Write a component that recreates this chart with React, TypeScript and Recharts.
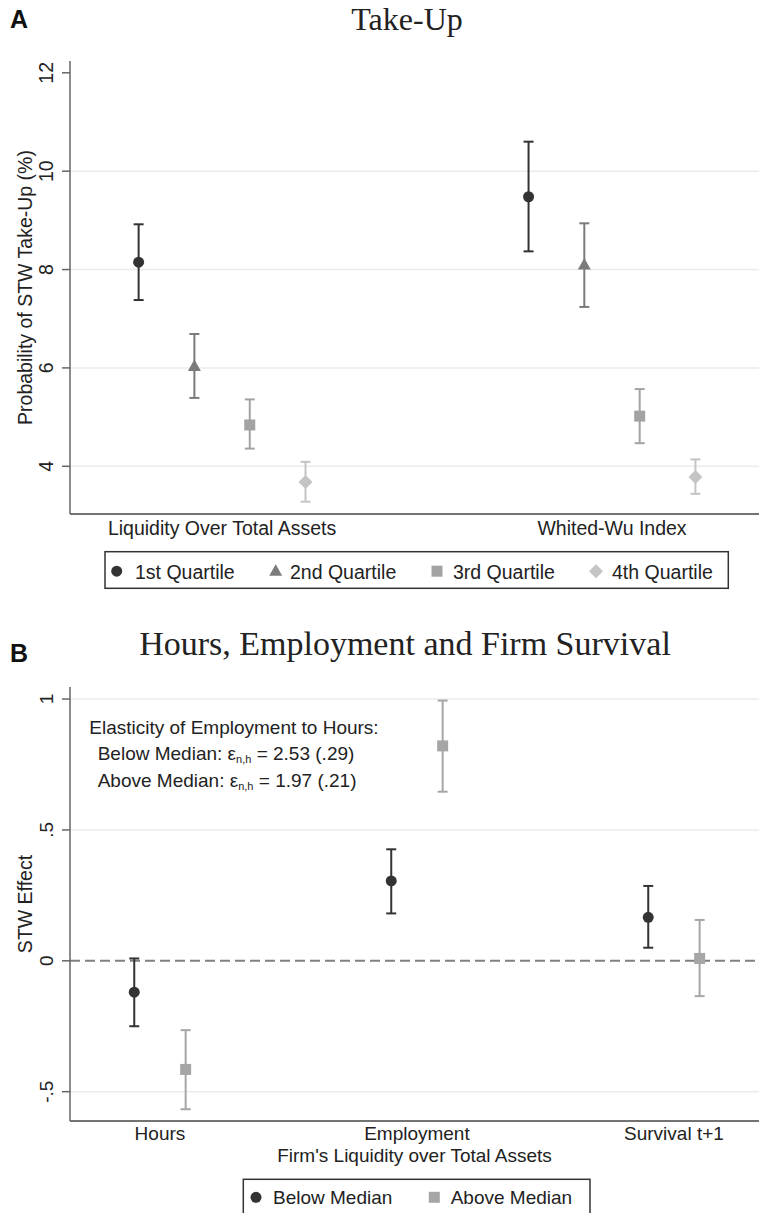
import React from "react";
import { ScatterChart, Scatter, XAxis, YAxis, ReferenceLine, ErrorBar } from "recharts";

// Panel A: take-up by liquidity quartile
const takeUpGroups = ["Liquidity Over Total Assets", "Whited-Wu Index"];
const quartileNames = ["1st Quartile", "2nd Quartile", "3rd Quartile", "4th Quartile"];
const takeUpMean = [
  [8.15, 9.48],
  [6.03, 8.09],
  [4.84, 5.02],
  [3.68, 3.78],
];
const takeUpLow = [
  [7.38, 8.37],
  [5.39, 7.24],
  [4.36, 4.47],
  [3.28, 3.44],
];
const takeUpHigh = [
  [8.92, 10.6],
  [6.69, 8.94],
  [5.36, 5.57],
  [4.09, 4.14],
];
const takeUpTicks = [4, 6, 8, 10, 12];
const takeUpGrid = [4, 6, 8, 10];

// Panel B: effects below / above median liquidity
const outcomeNames = ["Hours", "Employment", "Survival t+1"];
const medianNames = ["Below Median", "Above Median"];
const effectMean = [
  [-0.12, 0.305, 0.166],
  [-0.415, 0.821, 0.009],
];
const effectLow = [
  [-0.25, 0.181, 0.05],
  [-0.567, 0.646, -0.135],
];
const effectHigh = [
  [0.009, 0.426, 0.286],
  [-0.265, 0.994, 0.156],
];
const effectTicks = [-0.5, 0, 0.5, 1];
const effectTickLabels = ["-.5", "0", ".5", "1"];
const effectGrid = [-0.5, 0.5, 1];

const SANS = "'Liberation Sans', Arial, sans-serif";
const SERIF = "'Liberation Serif', 'Times New Roman', serif";
const TXT = "#222";

const quartileColors = ["#333333", "#7b7b7b", "#a3a3a3", "#c4c4c4"];
const quartileShapes = ["circle", "triangle", "square", "diamond"];
const quartileOffset = [-0.214, -0.071, 0.071, 0.214];
const medianColors = ["#333333", "#a6a6a6"];
const medianShapes = ["circle", "square"];
const medianOffset = [-0.1, 0.1];

function Marker({ kind, cx, cy, color }: any) {
  if (kind === "circle") return <circle cx={cx} cy={cy} r={5.5} fill={color} />;
  if (kind === "triangle")
    return <polygon points={`${cx},${cy - 7} ${cx + 6.5},${cy + 4.5} ${cx - 6.5},${cy + 4.5}`} fill={color} />;
  if (kind === "square") return <rect x={cx - 5.5} y={cy - 5.5} width={11} height={11} fill={color} />;
  return <polygon points={`${cx},${cy - 7} ${cx + 7},${cy} ${cx},${cy + 7} ${cx - 7},${cy}`} fill={color} />;
}

const YTick = ({ x, y, payload, fmt, fs }: any) => (
  <text
    transform={`translate(${x - 7},${y}) rotate(-90)`}
    textAnchor="middle"
    fontSize={fs}
    fontFamily={SANS}
    fill={TXT}
  >
    {fmt(payload.value)}
  </text>
);

const XTick = ({ x, y, payload, names, fs, dy }: any) => (
  <text x={x} y={y + dy} textAnchor="middle" fontSize={fs} fontFamily={SANS} fill={TXT}>
    {names[Math.round(payload.value) - 1]}
  </text>
);

function TakeUpChart() {
  const series = quartileNames.map((name, q) =>
    takeUpGroups.map((g, i) => ({
      x: i + 1 + quartileOffset[q],
      y: takeUpMean[q][i],
      err: [takeUpMean[q][i] - takeUpLow[q][i], takeUpHigh[q][i] - takeUpMean[q][i]],
    }))
  );
  return (
    <ScatterChart width={759} height={600} margin={{ top: 61, right: 0, bottom: 0, left: 0 }}>
      <XAxis
        type="number"
        dataKey="x"
        domain={[0.61, 2.377]}
        ticks={[1, 2]}
        allowDataOverflow
        tickLine={false}
        tickSize={0}
        tickMargin={0}
        height={86}
        stroke="#444"
        strokeWidth={1.5}
        tick={<XTick names={takeUpGroups} fs={19.5} dy={21} />}
      />
      <YAxis
        type="number"
        dataKey="y"
        domain={[3.03, 12.24]}
        ticks={takeUpTicks}
        allowDataOverflow
        width={70}
        tickSize={8}
        tickMargin={2}
        stroke="#666"
        strokeWidth={1.5}
        tick={<YTick fmt={(v: number) => String(v)} fs={19.5} />}
      />
      {takeUpGrid.map((v) => (
        <ReferenceLine key={v} y={v} stroke="#ebebeb" strokeWidth={1.5} />
      ))}
      {series.map((rows, q) => (
        <Scatter
          key={q}
          name={quartileNames[q]}
          data={rows}
          isAnimationActive={false}
          shape={(p: any) => <Marker kind={quartileShapes[q]} cx={p.cx} cy={p.cy} color={quartileColors[q]} />}
        >
          <ErrorBar dataKey="err" direction="y" width={5} stroke={quartileColors[q]} strokeWidth={2} />
        </Scatter>
      ))}
    </ScatterChart>
  );
}

function EffectChart() {
  const series = medianNames.map((name, m) =>
    outcomeNames.map((o, i) => ({
      x: i + 1 + medianOffset[m],
      y: effectMean[m][i],
      err: [effectMean[m][i] - effectLow[m][i], effectHigh[m][i] - effectMean[m][i]],
    }))
  );
  return (
    <ScatterChart width={759} height={613} margin={{ top: 87, right: 0, bottom: 0, left: 0 }}>
      <XAxis
        type="number"
        dataKey="x"
        domain={[0.65, 3.331]}
        ticks={[1, 2, 3]}
        allowDataOverflow
        tickLine={false}
        tickSize={0}
        tickMargin={0}
        height={92}
        stroke="#444"
        strokeWidth={1.5}
        tick={<XTick names={outcomeNames} fs={19} dy={19} />}
      />
      <YAxis
        type="number"
        dataKey="y"
        domain={[-0.612, 1.046]}
        ticks={effectTicks}
        allowDataOverflow
        width={70}
        tickSize={8}
        tickMargin={2}
        stroke="#666"
        strokeWidth={1.5}
        tick={<YTick fmt={(v: number) => effectTickLabels[effectTicks.indexOf(v)]} fs={19} />}
      />
      {effectGrid.map((v) => (
        <ReferenceLine key={v} y={v} stroke="#ebebeb" strokeWidth={1.5} />
      ))}
      <ReferenceLine y={0} stroke="#808080" strokeWidth={2} strokeDasharray="10 5" />
      {series.map((rows, m) => (
        <Scatter
          key={m}
          name={medianNames[m]}
          data={rows}
          isAnimationActive={false}
          shape={(p: any) => <Marker kind={medianShapes[m]} cx={p.cx} cy={p.cy} color={medianColors[m]} />}
        >
          <ErrorBar dataKey="err" direction="y" width={5} stroke={medianColors[m]} strokeWidth={2} />
        </Scatter>
      ))}
    </ScatterChart>
  );
}

function Overlay() {
  const legendA = [
    { mx: 116.7, tx: 135 },
    { mx: 275.7, tx: 290 },
    { mx: 437, tx: 453 },
    { mx: 596, tx: 612 },
  ];
  const legendB = [
    { mx: 256, tx: 273 },
    { mx: 434.3, tx: 450.7 },
  ];
  const sub = (main: string, rest: string, x: number, y: number) => (
    <text x={x} y={y} fontSize={19} fontFamily={SANS} fill={TXT}>
      {main}
      <tspan fontSize={11} dy={3}>n,h</tspan>
      <tspan dy={-3}>{rest}</tspan>
    </text>
  );
  return (
    <svg
      width={759}
      height={1213}
      style={{ position: "absolute", left: 0, top: 0, pointerEvents: "none" }}
    >
      <text x={10} y={28} fontSize={25} fontWeight="bold" fontFamily={SANS} fill="#111">A</text>
      <text x={407} y={29.5} fontSize={32} textAnchor="middle" fontFamily={SERIF} fill={TXT}>Take-Up</text>
      <text transform="translate(32,287.5) rotate(-90)" textAnchor="middle" fontSize={19.5} fontFamily={SANS} fill={TXT}>
        Probability of STW Take-Up (%)
      </text>
      <rect x={105} y={551.7} width={623.3} height={36.6} fill="none" stroke="#333" strokeWidth={1.5} />
      {quartileNames.map((n, q) => (
        <g key={n}>
          <Marker kind={quartileShapes[q]} cx={legendA[q].mx} cy={571.2} color={quartileColors[q]} />
          <text x={legendA[q].tx} y={578.5} fontSize={19.5} fontFamily={SANS} fill={TXT}>{n}</text>
        </g>
      ))}

      <text x={10} y={662} fontSize={25} fontWeight="bold" fontFamily={SANS} fill="#111">B</text>
      <text x={405} y={655} fontSize={34} textAnchor="middle" fontFamily={SERIF} fill={TXT}>
        Hours, Employment and Firm Survival
      </text>
      <text transform="translate(32,904) rotate(-90)" textAnchor="middle" fontSize={19.5} fontFamily={SANS} fill={TXT}>
        STW Effect
      </text>
      <text x={89.3} y={733.5} fontSize={19} fontFamily={SANS} fill={TXT}>Elasticity of Employment to Hours:</text>
      {sub("Below Median: ε", " = 2.53 (.29)", 97.7, 760)}
      {sub("Above Median: ε", " = 1.97 (.21)", 97.7, 786.5)}
      <text x={414.5} y={1162} fontSize={19} textAnchor="middle" fontFamily={SANS} fill={TXT}>
        Firm's Liquidity over Total Assets
      </text>
      <rect x={243.3} y={1179.3} width={346.7} height={36} fill="none" stroke="#333" strokeWidth={1.5} />
      {medianNames.map((n, m) => (
        <g key={n}>
          <Marker kind={medianShapes[m]} cx={legendB[m].mx} cy={1197.3} color={medianColors[m]} />
          <text x={legendB[m].tx} y={1204} fontSize={19} fontFamily={SANS} fill={TXT}>{n}</text>
        </g>
      ))}
    </svg>
  );
}

export default function App() {
  return (
    <div style={{ position: "absolute", left: 0, top: 0, width: 759, height: 1213, background: "#fff", overflow: "hidden" }}>
      <div style={{ position: "absolute", left: 0, top: 0 }}>
        <TakeUpChart />
      </div>
      <div style={{ position: "absolute", left: 0, top: 600 }}>
        <EffectChart />
      </div>
      <Overlay />
    </div>
  );
}
